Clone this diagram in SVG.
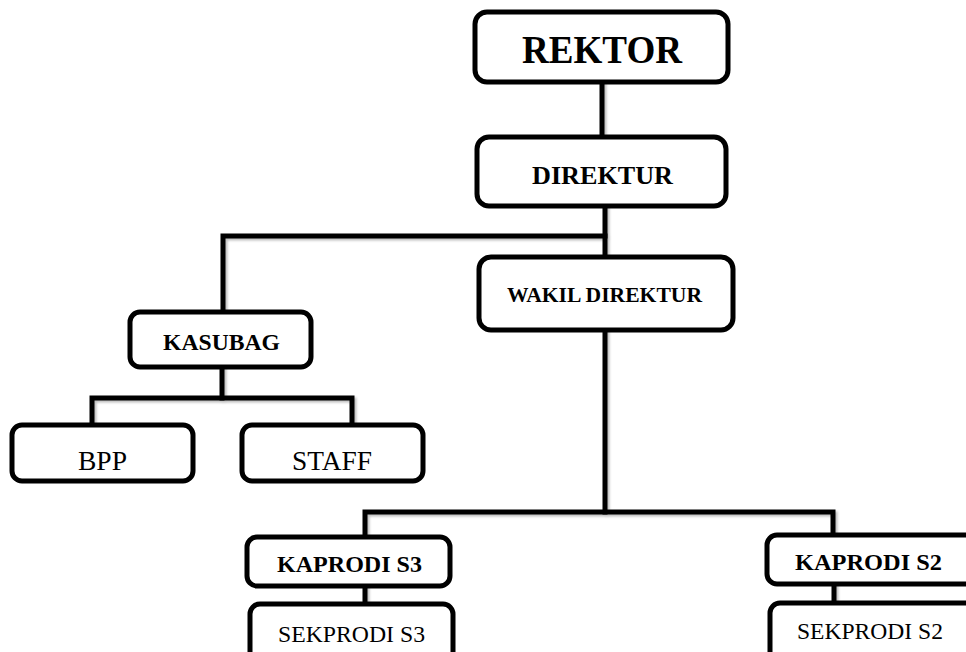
<svg xmlns="http://www.w3.org/2000/svg" width="966" height="652" viewBox="0 0 966 652">
<defs>
<filter id="sh" x="-10%" y="-10%" width="120%" height="120%">
<feDropShadow dx="2" dy="2" stdDeviation="1.2" flood-color="#000" flood-opacity="0.25"/>
</filter>
<style>
.box{fill:#fff;stroke:#000;stroke-width:5;}
.ln{fill:none;stroke:#000;stroke-width:5;stroke-linecap:square;}
.b{font-family:"Liberation Serif","Times New Roman",serif;font-weight:bold;text-anchor:middle;fill:#000;}
.r{font-family:"Liberation Serif","Times New Roman",serif;text-anchor:middle;fill:#000;}
</style>
</defs>
<rect width="966" height="652" fill="#fff"/>
<g id="connectors" filter="url(#sh)">
<path class="ln" d="M602 82V137"/>
<path class="ln" d="M605 206V257"/>
<path class="ln" d="M605 236H223V312"/>
<path class="ln" d="M222 367V398"/>
<path class="ln" d="M92 425V398H352V425"/>
<path class="ln" d="M605 330V512"/>
<path class="ln" d="M365 537V512H833V535"/>
<path class="ln" d="M365 586V604"/>
<path class="ln" d="M834 584V603"/>
</g>
<g id="rektor"><rect class="box" x="475" y="12" width="253" height="70" rx="12"/><text class="b" x="602" y="63" font-size="40" textLength="160" lengthAdjust="spacingAndGlyphs">REKTOR</text></g>
<g id="direktur"><rect class="box" x="477" y="137" width="249" height="69" rx="12"/><text class="b" x="602.5" y="184" font-size="26" textLength="141" lengthAdjust="spacingAndGlyphs">DIREKTUR</text></g>
<g id="wakil"><rect class="box" x="479" y="257" width="254" height="73" rx="12"/><text class="b" x="604.5" y="302" font-size="21" textLength="195" lengthAdjust="spacingAndGlyphs">WAKIL DIREKTUR</text></g>
<g id="kasubag"><rect class="box" x="130" y="312" width="181" height="55" rx="10"/><text class="b" x="221.5" y="350" font-size="23" textLength="117" lengthAdjust="spacingAndGlyphs">KASUBAG</text></g>
<g id="bpp"><rect class="box" x="12" y="425" width="181" height="56" rx="10"/><text class="r" x="102.5" y="470" font-size="27" textLength="49" lengthAdjust="spacingAndGlyphs">BPP</text></g>
<g id="staff"><rect class="box" x="242" y="425" width="181" height="56" rx="10"/><text class="r" x="332" y="470" font-size="27" textLength="80" lengthAdjust="spacingAndGlyphs">STAFF</text></g>
<g id="kaprodi-s3"><rect class="box" x="247" y="537" width="203" height="49" rx="10"/><text class="b" x="349.5" y="572" font-size="23" textLength="145" lengthAdjust="spacingAndGlyphs">KAPRODI S3</text></g>
<g id="sekprodi-s3"><rect class="box" x="250" y="604" width="203" height="62" rx="10"/><text class="r" x="351.5" y="642" font-size="24" textLength="147" lengthAdjust="spacingAndGlyphs">SEKPRODI S3</text></g>
<g id="kaprodi-s2"><rect class="box" x="767" y="535" width="222" height="49" rx="10"/><text class="b" x="868.5" y="570" font-size="23" textLength="147" lengthAdjust="spacingAndGlyphs">KAPRODI S2</text></g>
<g id="sekprodi-s2"><rect class="box" x="770" y="603" width="222" height="62" rx="10"/><text class="r" x="870" y="639" font-size="24" textLength="146" lengthAdjust="spacingAndGlyphs">SEKPRODI S2</text></g>
</svg>
